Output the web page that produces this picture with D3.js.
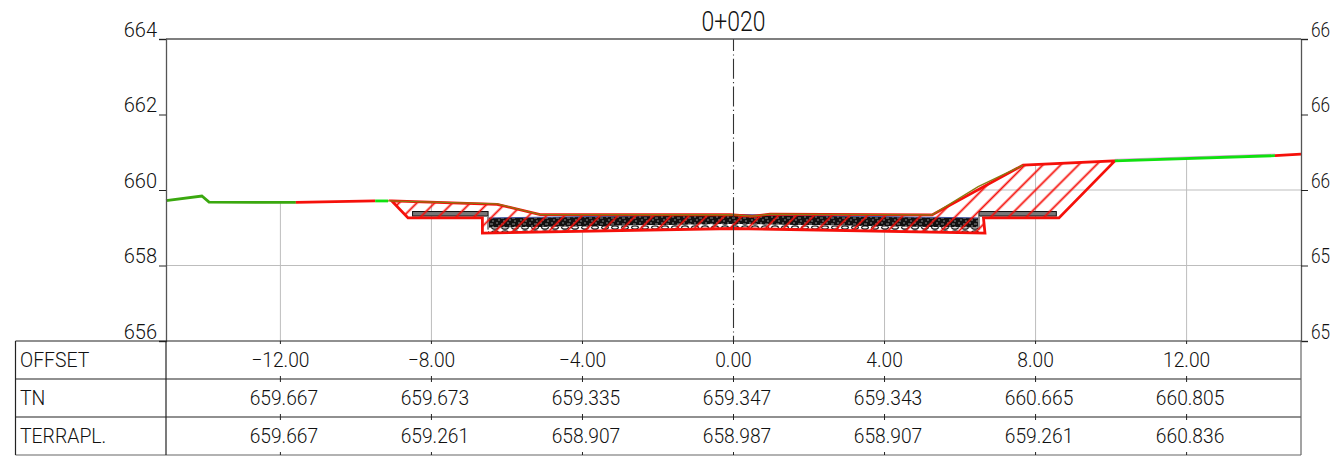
<!DOCTYPE html>
<html>
<head>
<meta charset="utf-8">
<script src="https://cdn.jsdelivr.net/npm/d3@7"></script>
<style>
html, body { margin: 0; padding: 0; background: #fff; overflow: hidden; }
text { font-family: Roboto, sans-serif; font-weight: 300; font-size: 20px; fill: #111; }
</style>
</head>
<body>
<script>
// section values
var title = "0+020";
var elevTicks = [664, 662, 660, 658, 656];
var rightLabels = ["66", "66", "66", "65", "65"]; // cut short at the window edge in the source
var offsets = [-12, -8, -4, 0, 4, 8, 12];
var rowNames = ["OFFSET", "TN", "TERRAPL."];
var tnValues = ["659.667", "659.673", "659.335", "659.347", "659.343", "660.665", "660.805"];
var terrainValues = ["659.667", "659.261", "658.907", "658.987", "658.907", "659.261", "660.836"];

// natural ground
var groundX = [-15.03, -14.08, -13.89, -11.59, -9.49, -9.15, -6.26, -5.12, -0.09, 0.5, 0.97, 5.26, 6.48, 7.67, 10.1, 14.34, 15.03];
var groundY = [659.72, 659.84, 659.68, 659.67, 659.71, 659.71, 659.63, 659.35, 659.345, 659.31, 659.36, 659.34, 660.09, 660.66, 660.77, 660.91, 660.95];

// cut/fill outline of the design section
var cutX = [-9.05, -6.26, -5.12, -0.09, 0.5, 0.97, 5.26, 7.67, 10.1, 8.62, 6.62, 6.66, 0, -6.65, -6.65, -8.62];
var cutY = [659.71, 659.62, 659.35, 659.345, 659.3, 659.36, 659.34, 660.66, 660.77, 659.26, 659.26, 658.86, 658.98, 658.86, 659.26, 659.26];

// pavement layers, left / centre / right
var paveX = [-6.5, 0, 6.5];
var paveTop = [659.26, 659.35, 659.26];
var paveMid = [659.0, 659.1, 659.0];
var paveBottom = [658.88, 658.99, 658.88];

// shoulders
var slabX = [[-8.5, -6.5], [6.5, 8.55]];
var slabTop = 659.43, slabBottom = 659.31;

var width = 1331, height = 457;
var tableTop = 341, tableBottom = 455, rowH = 38;

var x = d3.scaleLinear().domain([-15.03, 15.03]).range([166, 1301]);
var y = d3.scaleLinear().domain([656, 664]).range([341, 39]);

var svg = d3.select("body").append("svg").attr("width", width).attr("height", height).style("display", "block");
var defs = svg.append("defs");

var pts = function(xs, ys) { return xs.map(function(d, i) { return [d, ys[i]]; }); };
var line = d3.line().x(function(d) { return x(d[0]); }).y(function(d) { return y(d[1]); });
var seg = function(from, to) {
  return pts(groundX, groundY).filter(function(d) { return d[0] >= from && d[0] <= to; });
};

// squeeze Roboto a little, the source lettering is narrower
var squeeze = function(sel, k) {
  sel.each(function() {
    d3.select(this).attr("textLength", this.getComputedTextLength() * k).attr("lengthAdjust", "spacingAndGlyphs");
  });
};

// grid only shows below the ground
defs.append("clipPath").attr("id", "below")
  .append("path")
  .attr("d", d3.area().x(function(d) { return x(d[0]); }).y0(y(656)).y1(function(d) { return y(d[1]); })(pts(groundX, groundY)));

var grid = svg.append("g").attr("clip-path", "url(#below)").attr("stroke", "#bdbdbd").attr("stroke-width", 1);
grid.selectAll(".v").data(offsets.filter(function(d) { return d != 0; })).enter().append("line")
  .attr("x1", x).attr("x2", x).attr("y1", y(664)).attr("y2", y(656));
grid.selectAll(".h").data([660, 658]).enter().append("line")
  .attr("x1", x(-15.03)).attr("x2", x(15.03)).attr("y1", y).attr("y2", y);

// textures
var hatch = defs.append("pattern").attr("id", "hatch").attr("patternUnits", "userSpaceOnUse")
  .attr("width", 12.6).attr("height", 12.6).attr("patternTransform", "translate(5,0) rotate(45)");
hatch.append("line").attr("x1", 6.3).attr("x2", 6.3).attr("y1", 0).attr("y2", 12.6).attr("stroke", "#f5100a").attr("stroke-width", 1.8);

var dense = defs.append("pattern").attr("id", "dense").attr("patternUnits", "userSpaceOnUse").attr("width", 11).attr("height", 6);
dense.append("rect").attr("width", 11).attr("height", 6).attr("fill", "#111");
dense.append("path").attr("d", "M1 1h2M6 2h3M3 4h2M8 5h2").attr("stroke", "#999").attr("stroke-width", 0.9);

var gravel = defs.append("pattern").attr("id", "gravel").attr("patternUnits", "userSpaceOnUse").attr("width", 10).attr("height", 5);
gravel.append("rect").attr("width", 10).attr("height", 5).attr("fill", "#fff");
gravel.append("ellipse").attr("cx", 5).attr("cy", 2.5).attr("rx", 3.4).attr("ry", 1.6).attr("fill", "#fff").attr("stroke", "#111").attr("stroke-width", 1.1);

// pavement
svg.append("path").attr("d", line(pts(paveX, paveTop).concat(pts(paveX, paveMid).reverse()))).attr("fill", "url(#dense)");
svg.append("path").attr("d", line(pts(paveX, paveMid).concat(pts(paveX, paveBottom).reverse()))).attr("fill", "url(#gravel)");
svg.append("path").attr("d", line(pts(paveX, paveTop))).attr("fill", "none").attr("stroke", "#3c4f9e").attr("stroke-width", 1);

// shoulders
svg.selectAll(".slab").data(slabX).enter().append("rect")
  .attr("x", function(d) { return x(d[0]); })
  .attr("width", function(d) { return x(d[1]) - x(d[0]); })
  .attr("y", y(slabTop))
  .attr("height", y(slabBottom) - y(slabTop))
  .attr("fill", "#777").attr("stroke", "#111").attr("stroke-width", 1);
svg.selectAll(".wall").data([-6.5, 6.5]).enter().append("line")
  .attr("x1", x).attr("x2", x).attr("y1", y(slabBottom)).attr("y2", y(658.95))
  .attr("stroke", "#888").attr("stroke-width", 2);

// hatched cut/fill
svg.append("path").attr("d", line(pts(cutX, cutY)) + "Z")
  .attr("fill", "url(#hatch)").attr("stroke", "#f5100a").attr("stroke-width", 2.8).attr("stroke-linejoin", "miter");

// ground, coloured piece by piece
svg.append("path").attr("d", line(seg(-9.15, 7.67))).attr("fill", "none").attr("stroke", "#8a7a10").attr("stroke-width", 1.3);
svg.append("path").attr("d", line(seg(10.1, 14.34))).attr("fill", "none").attr("stroke", "#e9a0e9").attr("stroke-width", 1)
  .attr("transform", "translate(0,-1.6)");
var groundParts = [
  [-15.03, -11.59, "#3aa80f"],
  [-11.59, -9.49, "#f5100a"],
  [-9.49, -9.15, "#10e010"],
  [10.1, 14.34, "#10e010"],
  [14.34, 15.03, "#f5100a"]
];
svg.selectAll(".part").data(groundParts).enter().append("path")
  .attr("d", function(d) { return line(seg(d[0], d[1])); })
  .attr("fill", "none").attr("stroke", function(d) { return d[2]; }).attr("stroke-width", 2.8);

// centre line
svg.append("line").attr("x1", x(0)).attr("x2", x(0)).attr("y1", y(664)).attr("y2", y(656))
  .attr("stroke", "#333").attr("stroke-width", 1.1)
  .attr("stroke-dasharray", "20 3.4 1.2 3.1").attr("stroke-dashoffset", 8);

// axes
var axisLeft = svg.append("g").attr("transform", "translate(" + x(-15.03) + ",0)")
  .call(d3.axisLeft(y).tickValues(elevTicks).tickSize(7).tickPadding(2).tickFormat(d3.format("d")));
var axisRight = svg.append("g").attr("transform", "translate(" + x(15.03) + ",0)")
  .call(d3.axisRight(y).tickValues(elevTicks).tickSize(7).tickPadding(3)
    .tickFormat(function(d, i) { return rightLabels[i]; }));
[axisLeft, axisRight].forEach(function(a) {
  a.attr("font-family", null).attr("font-size", null);
  a.select(".domain").attr("stroke", "#555").attr("stroke-width", 1.3);
  a.selectAll("line").attr("stroke", "#222");
  a.selectAll("text").attr("y", -9);
});
axisRight.selectAll("text").call(squeeze, 0.86);

svg.append("line").attr("x1", x(-15.03)).attr("x2", x(15.03)).attr("y1", y(664)).attr("y2", y(664))
  .attr("stroke", "#555").attr("stroke-width", 1.3);

svg.append("text").attr("x", x(0)).attr("y", 31).attr("text-anchor", "middle")
  .style("font-size", "27px").text(title).call(squeeze, 0.85);

// table
var table = svg.append("g");
var rowLines = d3.range(4).map(function(i) { return tableTop + i * rowH; });
table.selectAll(".row").data(rowLines).enter().append("line")
  .attr("x1", 15.5).attr("x2", x(15.03)).attr("y1", function(d) { return d; }).attr("y2", function(d) { return d; })
  .attr("stroke", function(d, i) { return i == 3 ? "#666" : "#222"; }).attr("stroke-width", 1.2);
table.selectAll(".col").data([15.5, x(-15.03), x(15.03)]).enter().append("line")
  .attr("x1", function(d) { return d; }).attr("x2", function(d) { return d; })
  .attr("y1", tableTop).attr("y2", tableBottom)
  .attr("stroke", function(d, i) { return i == 2 ? "#666" : "#222"; }).attr("stroke-width", 1.2);

// little marks on the row lines
offsets.forEach(function(o) {
  rowLines.forEach(function(r, i) {
    table.append("line").attr("x1", x(o)).attr("x2", x(o))
      .attr("y1", i == 0 ? r : r - 3).attr("y2", i == 3 ? r : r + 3)
      .attr("stroke", "#222").attr("stroke-width", 1);
  });
});

var rowY = function(i) { return tableTop + rowH * i + rowH / 2; };
table.selectAll(".name").data(rowNames).enter().append("text")
  .attr("x", 20).attr("y", function(d, i) { return rowY(i); }).attr("dy", "0.36em").text(function(d) { return d; })
  .call(squeeze, 0.97);

var rows = [offsets.map(d3.format(".2f")), tnValues, terrainValues];
rows.forEach(function(vals, i) {
  table.selectAll(".r" + i).data(vals).enter().append("text")
    .attr("x", function(d, j) { return x(offsets[j]) + (i == 0 ? 0 : 3.5); })
    .attr("y", rowY(i)).attr("dy", "0.36em").attr("text-anchor", "middle")
    .text(function(d) { return d; })
    .call(squeeze, 0.96);
});
</script>
</body>
</html>
